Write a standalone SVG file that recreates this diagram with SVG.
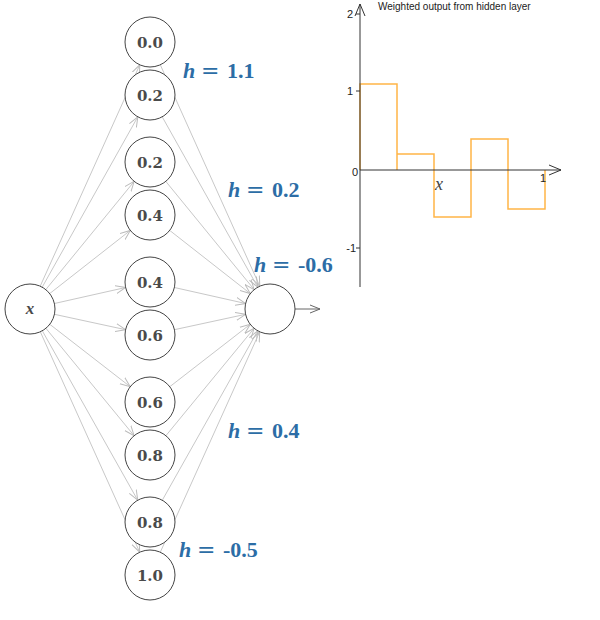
<svg xmlns="http://www.w3.org/2000/svg" width="600" height="620" viewBox="0 0 600 620">
<defs>
<marker id="ah" viewBox="0 0 10 10" refX="10" refY="5" markerWidth="10" markerHeight="10" markerUnits="userSpaceOnUse" orient="auto">
<path d="M0,1 L10,5 L0,9" fill="none" stroke="#bbb" stroke-width="1"/>
</marker>
<marker id="ahd" viewBox="0 0 10 10" refX="10" refY="5" markerWidth="10" markerHeight="10" markerUnits="userSpaceOnUse" orient="auto">
<path d="M0,1 L10,5 L0,9" fill="none" stroke="#666" stroke-width="1"/>
</marker>
<marker id="ax" viewBox="0 0 12 12" refX="12" refY="6" markerWidth="12" markerHeight="12" markerUnits="userSpaceOnUse" orient="auto">
<path d="M0,1 L12,6 L0,11" fill="none" stroke="#333" stroke-width="1"/>
</marker>
</defs>
<style>
.edge{stroke:#c8c8c8;stroke-width:1;fill:none;marker-end:url(#ah)}
.node circle{fill:#fff;stroke:#444;stroke-width:1}
.nl{font-family:"DejaVu Serif","Liberation Serif",serif;font-weight:bold;font-size:15px;fill:#4a4a4a;text-anchor:middle}
.h{font-family:"Liberation Serif","DejaVu Serif",serif;font-weight:bold;font-size:22px;fill:#2c6da6}
.eq{font-family:"DejaVu Sans",sans-serif;font-weight:normal;font-size:22px}
.tick{font-family:"Liberation Sans",Arial,sans-serif;font-size:11px;fill:#222;text-anchor:end}
.axis{stroke:#333;stroke-width:1;fill:none}
</style>
<g id="connectors">
<line class="edge" x1="40.2" y1="286.2" x2="139.8" y2="64.8"/>
<line class="edge" x1="42.2" y1="287.2" x2="137.8" y2="116.8"/>
<line class="edge" x1="45.8" y1="289.6" x2="134.2" y2="181.4"/>
<line class="edge" x1="49.7" y1="293.6" x2="130.3" y2="230.4"/>
<line class="edge" x1="54.4" y1="303.5" x2="125.6" y2="287.5"/>
<line class="edge" x1="54.4" y1="314.3" x2="125.6" y2="329.7"/>
<line class="edge" x1="49.8" y1="324.3" x2="130.2" y2="386.7"/>
<line class="edge" x1="45.9" y1="328.3" x2="134.1" y2="435.7"/>
<line class="edge" x1="42.3" y1="330.8" x2="137.7" y2="500.2"/>
<line class="edge" x1="40.3" y1="331.8" x2="139.7" y2="552.2"/>
<line class="edge" x1="160.3" y1="64.8" x2="259.8" y2="286.2"/>
<line class="edge" x1="162.2" y1="116.8" x2="257.8" y2="287.2"/>
<line class="edge" x1="165.8" y1="181.4" x2="254.2" y2="289.6"/>
<line class="edge" x1="169.7" y1="230.4" x2="250.3" y2="293.6"/>
<line class="edge" x1="174.4" y1="287.5" x2="245.6" y2="303.5"/>
<line class="edge" x1="174.4" y1="329.7" x2="245.6" y2="314.3"/>
<line class="edge" x1="169.8" y1="386.7" x2="250.2" y2="324.3"/>
<line class="edge" x1="165.9" y1="435.7" x2="254.1" y2="328.3"/>
<line class="edge" x1="162.3" y1="500.2" x2="257.7" y2="330.8"/>
<line class="edge" x1="160.3" y1="552.2" x2="259.7" y2="331.8"/>
<line x1="295" y1="309" x2="320" y2="309" stroke="#666" stroke-width="1" marker-end="url(#ahd)"/>
</g>
<g id="input" class="node"><circle cx="30" cy="309" r="25"/><text x="30" y="314" class="nl" style="font-style:italic;font-size:17px;font-family:'Liberation Serif',serif">x</text></g>
<g id="h0" class="node"><circle cx="150" cy="42" r="25"/><text x="150" y="47.5" class="nl">0.0</text></g>
<g id="h1" class="node"><circle cx="150" cy="95" r="25"/><text x="150" y="100.5" class="nl">0.2</text></g>
<g id="h2" class="node"><circle cx="150" cy="162" r="25"/><text x="150" y="167.5" class="nl">0.2</text></g>
<g id="h3" class="node"><circle cx="150" cy="215" r="25"/><text x="150" y="220.5" class="nl">0.4</text></g>
<g id="h4" class="node"><circle cx="150" cy="282" r="25"/><text x="150" y="287.5" class="nl">0.4</text></g>
<g id="h5" class="node"><circle cx="150" cy="335" r="25"/><text x="150" y="340.5" class="nl">0.6</text></g>
<g id="h6" class="node"><circle cx="150" cy="402" r="25"/><text x="150" y="407.5" class="nl">0.6</text></g>
<g id="h7" class="node"><circle cx="150" cy="455" r="25"/><text x="150" y="460.5" class="nl">0.8</text></g>
<g id="h8" class="node"><circle cx="150" cy="522" r="25"/><text x="150" y="527.5" class="nl">0.8</text></g>
<g id="h9" class="node"><circle cx="150" cy="575" r="25"/><text x="150" y="580.5" class="nl">1.0</text></g>
<g id="output" class="node"><circle cx="270" cy="309" r="25"/></g>
<g id="hlabels">
<text x="183" y="78" class="h"><tspan font-style="italic">h</tspan><tspan x="201" class="eq">=</tspan><tspan x="227">1.1</tspan></text>
<text x="228" y="197" class="h"><tspan font-style="italic">h</tspan><tspan x="246" class="eq">=</tspan><tspan x="272">0.2</tspan></text>
<text x="254" y="272" class="h"><tspan font-style="italic">h</tspan><tspan x="272" class="eq">=</tspan><tspan x="298">-0.6</tspan></text>
<text x="228" y="438" class="h"><tspan font-style="italic">h</tspan><tspan x="246" class="eq">=</tspan><tspan x="272">0.4</tspan></text>
<text x="179" y="557" class="h"><tspan font-style="italic">h</tspan><tspan x="197" class="eq">=</tspan><tspan x="223">-0.5</tspan></text>
</g>
<g id="chart">
<path d="M360,170 V84 H397 V170 M397,154 H434 V217 H471 V139 H508 V209 H545 V170" fill="none" stroke="#ffa726" stroke-width="1.5" stroke-opacity="0.85"/>
<line class="axis" x1="360" y1="287" x2="360" y2="4" marker-end="url(#ax)"/>
<line class="axis" x1="360" y1="170" x2="561" y2="170" marker-end="url(#ax)"/>
<line class="axis" x1="356" y1="14" x2="360" y2="14"/>
<line class="axis" x1="356" y1="91" x2="360" y2="91"/>
<line class="axis" x1="356" y1="248" x2="360" y2="248"/>
<text x="353" y="18" class="tick">2</text>
<text x="353" y="95" class="tick">1</text>
<text x="358" y="176" class="tick">0</text>
<text x="356" y="252" class="tick">-1</text>
<text x="546" y="182" class="tick" fill="#888">1</text>
<text x="439" y="190" font-family="Liberation Serif,serif" font-style="italic" font-size="18" fill="#444" text-anchor="middle">x</text>
<text x="378" y="10" font-family="Liberation Sans,Arial,sans-serif" font-size="10" fill="#222">Weighted output from hidden layer</text>
</g>
</svg>
